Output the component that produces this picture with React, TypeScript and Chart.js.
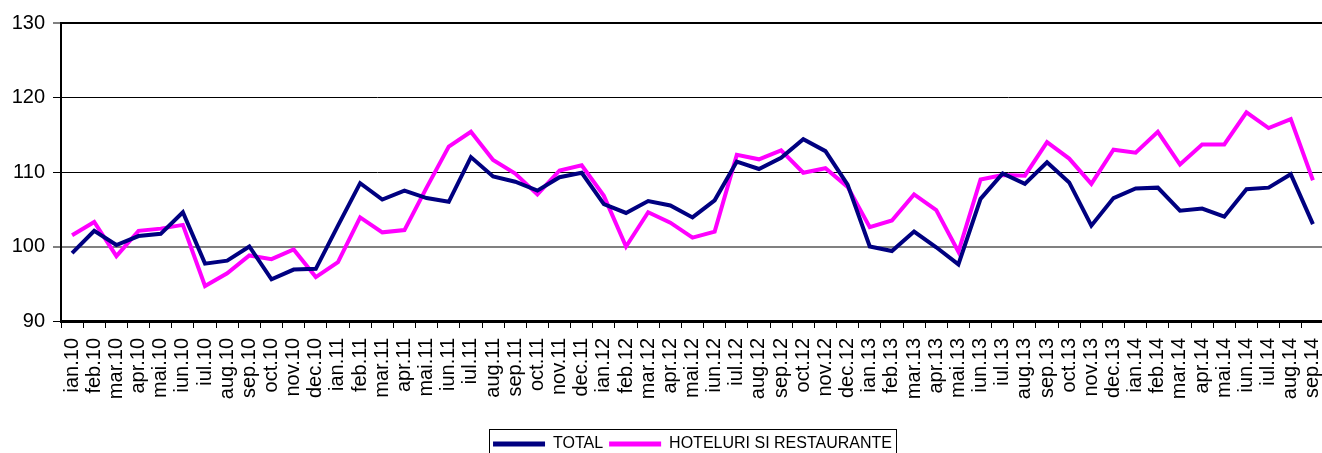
import React, { useEffect, useRef } from "react";
import { Chart, registerables } from "chart.js";

Chart.register(...registerables);

const categories: string[] = [
  "ian.10", "feb.10", "mar.10", "apr.10", "mai.10", "iun.10", "iul.10", "aug.10", "sep.10", "oct.10", "nov.10", "dec.10",
  "ian.11", "feb.11", "mar.11", "apr.11", "mai.11", "iun.11", "iul.11", "aug.11", "sep.11", "oct.11", "nov.11", "dec.11",
  "ian.12", "feb.12", "mar.12", "apr.12", "mai.12", "iun.12", "iul.12", "aug.12", "sep.12", "oct.12", "nov.12", "dec.12",
  "ian.13", "feb.13", "mar.13", "apr.13", "mai.13", "iun.13", "iul.13", "aug.13", "sep.13", "oct.13", "nov.13", "dec.13",
  "ian.14", "feb.14", "mar.14", "apr.14", "mai.14", "iun.14", "iul.14", "aug.14", "sep.14",
];

const totalValues: number[] = [
  99.1, 102.1, 100.2, 101.4, 101.7, 104.6, 97.7, 98.1, 100.0, 95.6, 96.9, 97.0,
  102.8, 108.5, 106.3, 107.5, 106.5, 106.0, 112.0, 109.4, 108.7, 107.5, 109.3, 109.9,
  105.7, 104.5, 106.1, 105.5, 103.9, 106.2, 111.4, 110.4, 111.9, 114.4, 112.8, 108.3,
  100.0, 99.4, 102.0, 99.9, 97.6, 106.4, 109.8, 108.4, 111.3, 108.6, 102.8, 106.5,
  107.8, 107.9, 104.8, 105.1, 104.0, 107.7, 107.9, 109.7, 103.0,
];

const hoteluriValues: number[] = [
  101.5, 103.3, 98.7, 102.1, 102.4, 102.9, 94.7, 96.4, 98.8, 98.3, 99.6, 95.9,
  97.9, 103.9, 101.9, 102.2, 107.9, 113.4, 115.4, 111.6, 109.8, 107.0, 110.2, 110.9,
  106.8, 100.0, 104.6, 103.2, 101.2, 102.0, 112.3, 111.7, 112.9, 109.9, 110.5, 108.0,
  102.6, 103.5, 107.0, 104.9, 99.3, 109.0, 109.6, 109.5, 114.0, 111.8, 108.4, 113.0,
  112.6, 115.4, 111.0, 113.7, 113.7, 118.0, 115.9, 117.1, 108.9,
];

const seriesNames: string[] = ["TOTAL", "HOTELURI SI RESTAURANTE"];
const seriesColors: string[] = ["#000080", "#FF00FF"];

const yMin = 90;
const yMax = 130;
const yStep = 10;

const FONT = "'Liberation Sans', Arial, sans-serif";

const legendBorder = {
  id: "legendBorder",
  afterDraw(chart: any) {
    const legend = chart.legend;
    if (!legend || !legend.legendHitBoxes || !legend.legendHitBoxes.length) return;
    const hb = legend.legendHitBoxes;
    const first = hb[0];
    const last = hb[hb.length - 1];
    const left = first.left - 4;
    const right = last.left + last.width + 4;
    const top = first.top - 7;
    const ctx = chart.ctx;
    ctx.save();
    ctx.strokeStyle = "#000";
    ctx.lineWidth = 1;
    ctx.strokeRect(Math.round(left) + 0.5, Math.round(top) + 0.5, Math.round(right - left), chart.height - top + 10);
    ctx.restore();
  },
};

export default function App() {
  const canvasRef = useRef<HTMLCanvasElement | null>(null);

  useEffect(() => {
    if (!canvasRef.current) return;
    const chart = new Chart(canvasRef.current, {
      type: "line",
      data: {
        labels: categories,
        datasets: [
          {
            label: seriesNames[0],
            data: totalValues,
            borderColor: seriesColors[0],
            backgroundColor: seriesColors[0],
            borderWidth: 4,
            pointRadius: 0,
            tension: 0,
          },
          {
            label: seriesNames[1],
            data: hoteluriValues,
            borderColor: seriesColors[1],
            backgroundColor: seriesColors[1],
            borderWidth: 4,
            pointRadius: 0,
            tension: 0,
          },
        ],
      },
      options: {
        responsive: false,
        animation: false,
        devicePixelRatio: 1,
        layout: { padding: { top: 23, right: 6, bottom: 0, left: 0 } },
        plugins: {
          tooltip: { enabled: false },
          legend: {
            position: "bottom",
            fullSize: false,
            labels: {
              font: { family: FONT, size: 16 },
              color: "#000",
              boxWidth: 52,
              boxHeight: 5,
              padding: 6,
              generateLabels: (chart: any) => {
                const items = Chart.defaults.plugins.legend.labels.generateLabels(chart);
                return items.map((it: any) => ({ ...it, lineWidth: 0 }));
              },
            },
          },
        },
        scales: {
          x: {
            type: "category",
            offset: true,
            afterFit: (s: any) => {
              s.height = 109;
              s.paddingLeft = 0;
              s.paddingRight = 0;
            },
            grid: {
              display: true,
              drawOnChartArea: false,
              drawTicks: true,
              tickLength: 7,
              offset: true,
              color: "#000",
            },
            border: { display: true, color: "#000", width: 3 },
            ticks: {
              autoSkip: false,
              maxRotation: 90,
              minRotation: 90,
              padding: 10,
              color: "#000",
              font: { family: FONT, size: 20 },
            },
          },
          y: {
            min: yMin,
            max: yMax,
            afterFit: (s: any) => {
              s.width = 61;
            },
            grid: {
              color: (c: any) => (c.tick && c.tick.value === 100 ? "#808080" : "#000"),
              lineWidth: (c: any) =>
                c.tick && (c.tick.value === 100 || c.tick.value === 130) ? 2 : 1,
              drawTicks: true,
              tickLength: 8,
              tickColor: "#000",
              tickWidth: 1,
            },
            border: { display: true, color: "#000", width: 2 },
            ticks: {
              stepSize: yStep,
              padding: 8,
              color: "#000",
              font: { family: FONT, size: 20 },
            },
          },
        },
      },
      plugins: [legendBorder],
    } as any);
    return () => chart.destroy();
  }, []);

  return (
    <div
      style={{
        position: "fixed",
        left: 0,
        top: 0,
        width: "1322px",
        height: "453px",
        overflow: "hidden",
        background: "#fff",
      }}
    >
      <canvas ref={canvasRef} width={1330} height={462} style={{ display: "block" }} />
    </div>
  );
}
